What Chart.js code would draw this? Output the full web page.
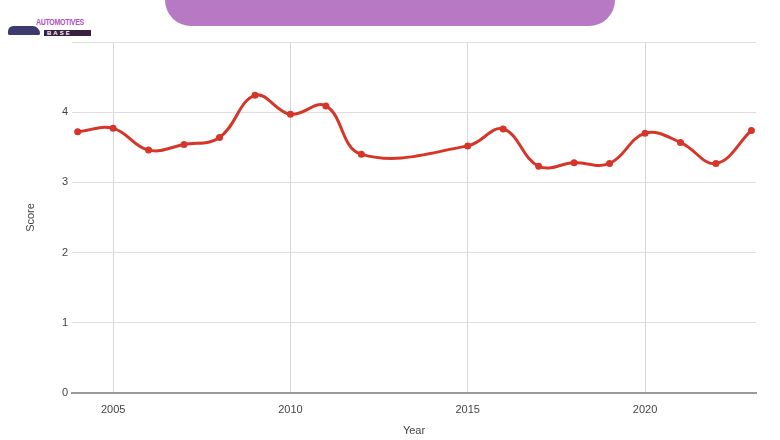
<!DOCTYPE html>
<html>
<head>
<meta charset="utf-8">
<script src="https://cdn.jsdelivr.net/npm/chart.js@4/dist/chart.umd.min.js"></script>
<style>
    html, body { margin: 0; padding: 0; background: #fff; }
    #wrap { position: relative; width: 780px; height: 440px; overflow: hidden; }
    #banner { position: absolute; left: 165px; top: -30px; width: 450px; height: 56px; background: #b779c4; border-radius: 0 0 26px 26px; }
    #logo { position: absolute; left: 4px; top: 18px; width: 84px; height: 24px; background: #fff; font-family: 'Liberation Sans', Arial, sans-serif; }
    #logo .car { position: absolute; left: 4px; top: 8px; width: 32px; height: 9px; background: #3c3a6e; border-radius: 10px 14px 3px 3px; }
    #logo .top { position: absolute; left: 32px; top: 1px; font-size: 7px; font-weight: bold; color: #b24fc6; letter-spacing: -0.3px; transform: scaleY(1.2); }
    #logo .bar { position: absolute; left: 40px; top: 12px; width: 44px; height: 6px; background: #3a1f3f; color: #fff; font-size: 6px; line-height: 6px; letter-spacing: 2px; padding-left: 3px; font-weight: bold; }
</style>
</head>
<body>
<div id="wrap">
    <canvas id="chart" width="780" height="440"></canvas>
    <div id="banner"></div>
    <div id="logo">
        <div class="car"></div>
        <div class="top">AUTOMOTIVES</div>
        <div class="bar">BASE</div>
    </div>
</div>
<script>
// Scores per year (2013 and 2014 missing in the source)
const years = [2004, 2005, 2006, 2007, 2008, 2009, 2010, 2011, 2012, 2015, 2016, 2017, 2018, 2019, 2020, 2021, 2022, 2023];
const scores = [3.72, 3.77, 3.46, 3.54, 3.64, 4.24, 3.97, 4.09, 3.40, 3.52, 3.76, 3.23, 3.28, 3.27, 3.70, 3.57, 3.27, 3.74];
const xTicks = [2005, 2010, 2015, 2020];
const yTicks = [0, 1, 2, 3, 4, 5];

const points = years.map(function (y, i) { return { x: y, y: scores[i] }; });
const font = { family: "'Liberation Sans', Arial, sans-serif", size: 11 };

new Chart(document.getElementById('chart'), {
    type: 'line',
    data: {
        datasets: [{
            label: 'Score',
            data: points,
            borderColor: '#d6362a',
            backgroundColor: '#d6362a',
            borderWidth: 3,
            tension: 0.4,
            pointRadius: 3.5,
            pointBackgroundColor: '#d6362a',
            pointBorderWidth: 0
        }]
    },
    options: {
        responsive: false,
        animation: false,
        layout: { padding: { top: 42, right: 24, left: 0, bottom: 0 } },
        plugins: { legend: { display: false }, tooltip: { enabled: false } },
        scales: {
            x: {
                type: 'linear',
                min: 2003.84,
                max: 2023.13,
                afterBuildTicks: function (s) { s.ticks = xTicks.map(function (v) { return { value: v }; }); },
                afterFit: function (s) { s.height = 47; },
                grid: { color: '#d6d6d6', drawTicks: false },
                border: { color: '#9a9a9a', width: 2 },
                ticks: { font: font, color: '#444', padding: 10, maxRotation: 0, callback: function (v) { return String(v); } },
                title: { display: true, text: 'Year', font: font, color: '#444', padding: { top: 0, bottom: 2 } }
            },
            y: {
                min: 0,
                max: 5,
                afterBuildTicks: function (s) { s.ticks = yTicks.map(function (v) { return { value: v }; }); },
                afterFit: function (s) { s.width = 72; },
                grid: { color: '#dedede', drawTicks: false },
                border: { display: false },
                ticks: { font: font, color: '#444', padding: 4, callback: function (v) { return v === 5 ? '' : String(v); } },
                title: { display: true, text: 'Score', font: font, color: '#444', padding: { top: 24, bottom: 0 } }
            }
        }
    }
});
</script>
</body>
</html>
